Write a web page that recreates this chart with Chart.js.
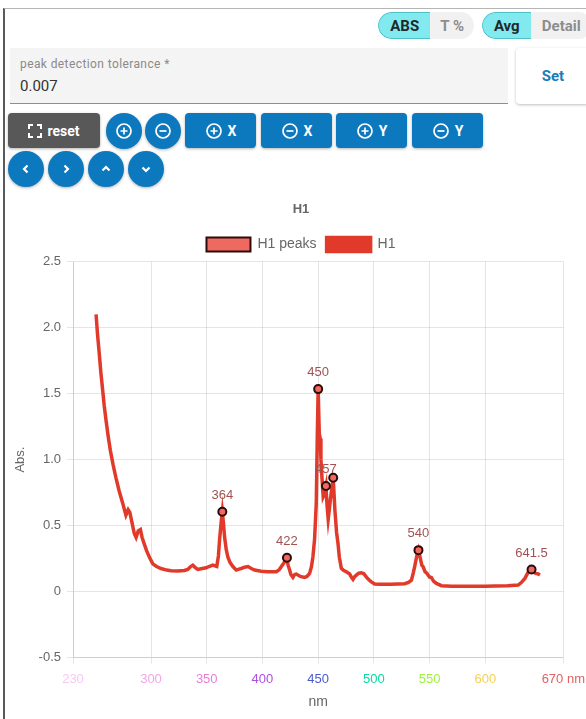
<!DOCTYPE html>
<html>
<head>
<meta charset="utf-8">
<script src="https://cdn.jsdelivr.net/npm/chart.js@4.4.1/dist/chart.umd.min.js"></script>
<style>
  body { margin: 0; width: 586px; height: 719px; overflow: hidden; background: #fff; font-family: Roboto, Arial, sans-serif; position: relative; }
  .frame { position: absolute; left: 3px; top: 8px; width: 600px; height: 720px; border-left: 2px solid #5a5a5a; border-top: 1px solid #b5b5b5; }
  .pill { position: absolute; top: 12px; height: 27px; display: flex; border-radius: 14px; overflow: hidden; font-weight: bold; font-size: 15px; }
  .pill div { display: flex; align-items: center; justify-content: center; }
  .pill .on { background: #82e9ef; color: #1d2a2c; border: 1px solid #4cc3c9; border-right: none; border-radius: 14px 0 0 14px; }
  .pill .off { background: #f1f1f1; color: #8d8d8d; }
  .field { position: absolute; left: 10px; top: 48px; width: 498px; height: 55px; background: #f4f4f4; border-bottom: 1px solid #8e8e8e; }
  .field .lab { position: absolute; left: 10px; top: 9px; font-size: 12px; color: #8a8a8a; letter-spacing: 0.4px; }
  .field .val { position: absolute; left: 10px; top: 29px; font-size: 15px; color: #333; }
  .set { position: absolute; left: 516px; top: 48px; width: 74px; height: 56px; background: #fff; border-radius: 4px; box-shadow: 0 1px 3px rgba(0,0,0,0.25); color: #1b7cb8; font-weight: bold; font-size: 15px; display: flex; align-items: center; justify-content: center; }
  .btn { position: absolute; height: 35px; background: #0c78be; color: #fff; border-radius: 4px; font-weight: bold; font-size: 14px; display: flex; align-items: center; justify-content: center; gap: 5px; box-shadow: 0 1px 3px rgba(0,0,0,0.3); }
  .circ { position: absolute; width: 36px; height: 36px; border-radius: 50%; background: #0c78be; display: flex; align-items: center; justify-content: center; box-shadow: 0 1px 3px rgba(0,0,0,0.3); }
  .reset { background: #585858; }
  #wrap { position: absolute; left: 6px; top: 190px; width: 587px; height: 529px; }
</style>
</head>
<body>
<div class="frame"></div>
<div class="pill" style="left:378px;width:96px;"><div class="on" style="width:52px;">ABS</div><div class="off" style="width:44px;">T %</div></div>
<div class="pill" style="left:482px;width:110px;"><div class="on" style="width:48px;">Avg</div><div class="off" style="width:62px;">Detail</div></div>
<div class="field"><div class="lab">peak detection tolerance *</div><div class="val">0.007</div></div>
<div class="set">Set</div>

<div class="btn reset" style="left:8px;top:113px;width:92px;">
  <svg width="14" height="14" viewBox="0 0 14 14" fill="none" stroke="#fff" stroke-width="2"><path d="M1 5V1h4M9 1h4v4M13 9v4H9M5 13H1V9"/></svg>reset</div>
<div class="circ" style="left:106px;top:113px;"><svg width="18" height="18" viewBox="0 0 18 18" fill="none" stroke="#fff" stroke-width="1.7"><circle cx="9" cy="9" r="7"/><path d="M9 5.5v7M5.5 9h7"/></svg></div>
<div class="circ" style="left:145px;top:113px;"><svg width="18" height="18" viewBox="0 0 18 18" fill="none" stroke="#fff" stroke-width="1.7"><circle cx="9" cy="9" r="7"/><path d="M5.5 9h7"/></svg></div>
<div class="btn" style="left:185px;top:113px;width:71px;"><svg width="18" height="18" viewBox="0 0 18 18" fill="none" stroke="#fff" stroke-width="1.7"><circle cx="9" cy="9" r="7"/><path d="M9 5.5v7M5.5 9h7"/></svg>X</div>
<div class="btn" style="left:261px;top:113px;width:71px;"><svg width="18" height="18" viewBox="0 0 18 18" fill="none" stroke="#fff" stroke-width="1.7"><circle cx="9" cy="9" r="7"/><path d="M5.5 9h7"/></svg>X</div>
<div class="btn" style="left:336px;top:113px;width:71px;"><svg width="18" height="18" viewBox="0 0 18 18" fill="none" stroke="#fff" stroke-width="1.7"><circle cx="9" cy="9" r="7"/><path d="M9 5.5v7M5.5 9h7"/></svg>Y</div>
<div class="btn" style="left:412px;top:113px;width:71px;"><svg width="18" height="18" viewBox="0 0 18 18" fill="none" stroke="#fff" stroke-width="1.7"><circle cx="9" cy="9" r="7"/><path d="M5.5 9h7"/></svg>Y</div>
<div class="circ" style="left:8px;top:151px;"><svg width="12" height="12" viewBox="0 0 12 12" fill="none" stroke="#fff" stroke-width="2.2"><path d="M7.5 2.5L4 6l3.5 3.5"/></svg></div>
<div class="circ" style="left:48px;top:151px;"><svg width="12" height="12" viewBox="0 0 12 12" fill="none" stroke="#fff" stroke-width="2.2"><path d="M4.5 2.5L8 6l-3.5 3.5"/></svg></div>
<div class="circ" style="left:88px;top:151px;"><svg width="12" height="12" viewBox="0 0 12 12" fill="none" stroke="#fff" stroke-width="2.2"><path d="M2.5 7.5L6 4l3.5 3.5"/></svg></div>
<div class="circ" style="left:128px;top:151px;"><svg width="12" height="12" viewBox="0 0 12 12" fill="none" stroke="#fff" stroke-width="2.2"><path d="M2.5 4.5L6 8l3.5-3.5"/></svg></div>

<div id="wrap"><canvas id="chart"></canvas></div>

<script>
// H1 spectrum (nm, Abs.)
const wavelengths = [250.7, 252, 253.6, 255, 256.7, 258, 259.6, 261.5, 263.5, 266, 268.6, 271.5, 274.6, 277.5, 279.5, 281, 283, 285, 286.6, 288.5, 290.5, 292, 294, 296, 298.6, 301.6, 305, 309, 314, 318, 324, 330, 333, 335.5, 337.5, 340, 342, 346, 349.5, 352, 355.5, 359, 360.5, 361.5, 363, 364, 365, 366, 367.5, 369, 371, 373.5, 376.5, 379, 381, 384, 387, 390, 393, 399, 405, 412.4, 415, 417, 419.5, 422, 423, 424.4, 425.5, 427.4, 429, 430.4, 434, 437.8, 440, 442.3, 444, 445.3, 446.8, 448.3, 449.2, 450, 451, 451.8, 452.5, 453.5, 454.5, 455.5, 457, 458, 459, 460, 461, 462.5, 463.5, 465, 466.5, 467.8, 469, 470.8, 473, 475.3, 478.3, 479.8, 481.3, 483, 484.3, 486.5, 488.8, 491, 493.3, 495.5, 497.7, 500.7, 505, 515, 527.7, 531, 533.7, 535.3, 536.6, 538.5, 540, 541.5, 543, 544.1, 546, 547.5, 548.6, 550, 551.6, 553.5, 556.1, 560.6, 570, 585, 600, 608.5, 620, 629.5, 632.5, 635.5, 638, 640.9, 643, 645.1, 647, 649];
const absH1 = [2.10, 1.95, 1.80, 1.66, 1.52, 1.41, 1.30, 1.18, 1.07, 0.96, 0.86, 0.76, 0.67, 0.58, 0.62, 0.60, 0.52, 0.44, 0.41, 0.46, 0.47, 0.41, 0.36, 0.31, 0.26, 0.21, 0.19, 0.175, 0.163, 0.158, 0.157, 0.16, 0.168, 0.19, 0.20, 0.18, 0.168, 0.175, 0.18, 0.19, 0.20, 0.19, 0.27, 0.39, 0.53, 0.605, 0.52, 0.415, 0.32, 0.26, 0.22, 0.19, 0.163, 0.17, 0.175, 0.185, 0.19, 0.175, 0.163, 0.155, 0.15, 0.15, 0.165, 0.19, 0.22, 0.256, 0.20, 0.163, 0.13, 0.108, 0.13, 0.133, 0.115, 0.108, 0.115, 0.138, 0.19, 0.264, 0.40, 0.67, 1.17, 1.534, 1.20, 1.16, 1.00, 0.85, 0.72, 0.74, 0.80, 0.65, 0.55, 0.62, 0.70, 0.80, 0.862, 0.62, 0.45, 0.365, 0.26, 0.176, 0.16, 0.15, 0.133, 0.11, 0.092, 0.115, 0.125, 0.14, 0.143, 0.135, 0.11, 0.09, 0.074, 0.057, 0.055, 0.055, 0.06, 0.07, 0.087, 0.14, 0.19, 0.27, 0.314, 0.26, 0.20, 0.19, 0.15, 0.14, 0.125, 0.11, 0.107, 0.08, 0.062, 0.045, 0.04, 0.04, 0.04, 0.042, 0.045, 0.05, 0.07, 0.10, 0.14, 0.168, 0.15, 0.138, 0.135, 0.125];

// detected peaks
const peakNm = [364, 422, 450, 457, 463.5, 540, 641.5];
const peakAbs = [0.605, 0.256, 1.534, 0.80, 0.862, 0.314, 0.168];
const peakLabels = ["364", "422", "450", "457", "", "540", "641.5"];

// x axis ticks
const xTicks = [230, 300, 350, 400, 450, 500, 550, 600, 670];
const xTickColors = ["#f6c9f1", "#f1a6e6", "#e77fd6", "#ad4fe0", "#4a5bd0", "#07dca0", "#9ff03f", "#f4d24f", "#e06262"];

const peakLabelPlugin = {
  id: "peakLabels",
  afterDatasetsDraw(chart) {
    const meta = chart.getDatasetMeta(0);
    const ctx = chart.ctx;
    ctx.save();
    ctx.font = "13px 'Helvetica Neue', Helvetica, Arial, sans-serif";
    ctx.fillStyle = "#a05252";
    ctx.textAlign = "center";
    ctx.textBaseline = "bottom";
    meta.data.forEach((pt, i) => {
      if (peakLabels[i]) ctx.fillText(peakLabels[i], pt.x, pt.y - 10);
    });
    ctx.restore();
  }
};

const ctx = document.getElementById("chart").getContext("2d");
Chart.defaults.font.size = 13;
Chart.defaults.color = "#666";

new Chart(ctx, {
  type: "line",
  data: {
    datasets: [
      {
        label: "H1 peaks",
        data: peakNm.map((x, i) => ({ x: x, y: peakAbs[i] })),
        showLine: false,
        backgroundColor: "#ee6a60",
        borderColor: "#2e0b0b",
        borderWidth: 2,
        pointRadius: 4,
        pointBorderWidth: 2,
      },
      {
        label: "H1",
        data: wavelengths.map((x, i) => ({ x: x, y: absH1[i] })),
        borderColor: "#e23a2a",
        backgroundColor: "#e23a2a",
        borderWidth: 3.5,
        pointRadius: 0,
        tension: 0,
        fill: false,
      },
    ],
  },
  options: {
    responsive: true,
    maintainAspectRatio: false,
    animation: false,
    layout: { padding: { left: 3, right: 0, top: 2, bottom: 4 } },
    plugins: {
      title: { display: true, text: "H1", font: { size: 13, weight: "bold" }, color: "#666" },
      legend: { labels: { boxWidth: 44, boxHeight: 14, font: { size: 14 } } },
      tooltip: { enabled: false },
    },
    scales: {
      x: {
        type: "linear",
        min: 230,
        max: 670,
        afterBuildTicks: (axis) => { axis.ticks = xTicks.map((v) => ({ value: v })); },
        ticks: {
          autoSkip: false,
          maxRotation: 0,
          padding: 8,
          color: (c) => xTickColors[c.index],
          callback: (v) => (v === 670 ? "670 nm" : String(v)),
        },
        grid: { tickLength: 6 },
        title: { display: true, text: "nm", font: { size: 14 }, padding: { top: -1, bottom: 4 } },
      },
      y: {
        min: -0.5,
        max: 2.5,
        ticks: {
          stepSize: 0.5,
          padding: 6,
          callback: (v) => (v === 0 ? "0" : v.toFixed(1)),
        },
        grid: { tickLength: 6 },
        title: { display: true, text: "Abs.", font: { size: 13 } },
      },
    },
  },
  plugins: [peakLabelPlugin],
});
</script>
</body>
</html>
